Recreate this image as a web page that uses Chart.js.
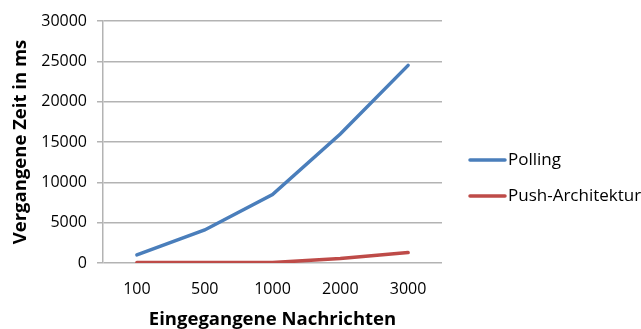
<!DOCTYPE html>
<html>
<head>
<meta charset="utf-8">
<script src="https://cdn.jsdelivr.net/npm/chart.js@4/dist/chart.umd.min.js"></script>
<style>
  html, body { margin: 0; padding: 0; background: #ffffff; }
  #wrap { width: 641px; height: 329px; position: relative; }
</style>
</head>
<body>
<div id="wrap"><canvas id="c" width="641" height="329"></canvas></div>
<script>
// Anzahl eingegangener Nachrichten
const categories = ['100', '500', '1000', '2000', '3000'];
// Vergangene Zeit in ms
const pollingValues = [1000, 4100, 8500, 16000, 24500];
const pushValues = [50, 50, 60, 550, 1300];
const seriesNames = ['Polling', 'Push-Architektur'];

const FONT = "'Open Sans', 'DejaVu Sans', sans-serif";

// Legend drawn to the right of the plot: short line sample + label
const sideLegend = {
  id: 'sideLegend',
  afterDraw(chart) {
    const ctx = chart.ctx;
    const x0 = chart.chartArea.right + 28;
    const yStart = 160, gap = 36;
    ctx.save();
    ctx.font = "17px " + FONT;
    ctx.textBaseline = 'middle';
    chart.data.datasets.forEach((ds, i) => {
      const y = yStart + i * gap;
      ctx.strokeStyle = ds.borderColor;
      ctx.lineWidth = 3.5;
      ctx.lineCap = 'round';
      ctx.beginPath();
      ctx.moveTo(x0, y);
      ctx.lineTo(x0 + 35, y);
      ctx.stroke();
      ctx.fillStyle = '#000000';
      ctx.fillText(ds.label, x0 + 38, y);
    });
    ctx.restore();
  }
};

new Chart(document.getElementById('c'), {
  type: 'line',
  data: {
    labels: categories,
    datasets: [
      { label: seriesNames[0], data: pollingValues, borderColor: '#4a7ebb', backgroundColor: '#4a7ebb',
        borderWidth: 3.5, pointRadius: 0, tension: 0, borderCapStyle: 'round' },
      { label: seriesNames[1], data: pushValues, borderColor: '#be4b48', backgroundColor: '#be4b48',
        borderWidth: 3.5, pointRadius: 0, tension: 0, borderCapStyle: 'round' }
    ]
  },
  options: {
    responsive: false,
    animation: false,
    devicePixelRatio: 1,
    layout: { padding: { top: 21, right: 199, left: 0, bottom: 0 } },
    plugins: {
      legend: { display: false },
      tooltip: { enabled: false }
    },
    scales: {
      x: {
        offset: true,
        grid: { display: false, drawTicks: false },
        border: { display: false },
        ticks: { color: '#000000', font: { family: FONT, size: 16 }, padding: 17, maxRotation: 0 },
        title: { display: true, text: 'Eingegangene Nachrichten', color: '#000000',
                 font: { family: FONT, size: 18.5, weight: 'bold', lineHeight: 1 }, padding: { top: 0, bottom: 0 } },
        afterFit(scale) { scale.height = 66; }
      },
      y: {
        min: 0, max: 30000,
        ticks: { stepSize: 5000, color: '#000000', font: { family: FONT, size: 16 }, padding: 10,
                 callback: (v) => String(v) },
        grid: { color: '#b3b3b3', lineWidth: 1.5, tickLength: 6, drawTicks: true },
        border: { color: '#b3b3b3', width: 1.5 },
        title: { display: true, text: 'Vergangene Zeit in ms', color: '#000000',
                 font: { family: FONT, size: 18.5, weight: 'bold' }, padding: { top: 10, bottom: 0 } },
        afterFit(scale) { scale.width = 103; }
      }
    }
  },
  plugins: [sideLegend]
});
</script>
</body>
</html>
